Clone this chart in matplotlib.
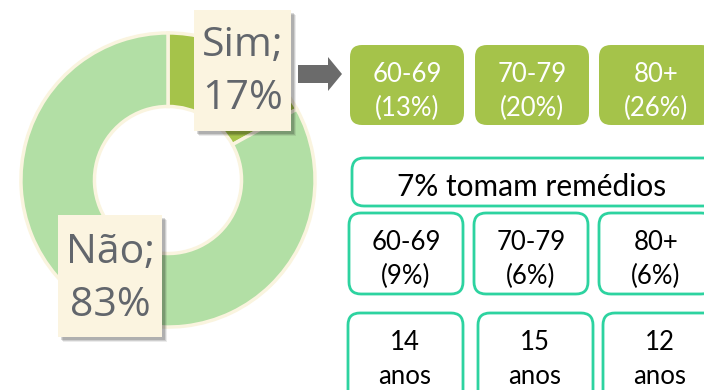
import matplotlib
matplotlib.use("Agg")
import matplotlib.pyplot as plt
from matplotlib.patches import FancyBboxPatch, Rectangle, FancyArrow

# Share of elderly who use the service
answers = ["Sim", "Não"]
answer_pct = [17, 83]

# Breakdown by age group
age_groups = ["60-69", "70-79", "80+"]
sim_by_age = [13, 20, 26]
meds_total = 7
meds_by_age = [9, 6, 6]
years_by_age = [14, 15, 12]

COLOR_SIM = "#A5C34A"
COLOR_NAO = "#B2DFA5"
COLOR_RING_EDGE = "#FAF4DF"
COLOR_LABEL_BG = "#FBF4E0"
COLOR_LABEL_TEXT = "#62666C"
COLOR_TEAL = "#2DD3A0"
COLOR_ARROW = "#6B6B6B"

W, H = 704, 390
fig = plt.figure(figsize=(W / 100, H / 100), dpi=100)

# --- Donut ---
cx, cy, r = 168, 180, 150
ax_pie = fig.add_axes([(cx - r) / W, (H - cy - r) / H, 2 * r / W, 2 * r / H])
ax_pie.pie(
    answer_pct,
    colors=[COLOR_SIM, COLOR_NAO],
    startangle=90,
    counterclock=False,
    radius=1.0,
    wedgeprops=dict(width=0.5, edgecolor=COLOR_RING_EDGE, linewidth=2.5),
)
ax_pie.set_xlim(-1.02, 1.02)
ax_pie.set_ylim(-1.02, 1.02)
ax_pie.axis("off")

# Overlay in pixel coordinates for labels and boxes
ax = fig.add_axes([0, 0, 1, 1])
ax.set_xlim(0, W)
ax.set_ylim(H, 0)
ax.axis("off")
ax.patch.set_alpha(0)


def label_box(x0, y0, x1, y1, lines, line_ys):
    for k, a in [(5, 0.08), (4, 0.12), (3, 0.15)]:
        ax.add_patch(Rectangle((x0 + k, y0 + k), x1 - x0, y1 - y0,
                               facecolor="black", alpha=a, edgecolor="none"))
    ax.add_patch(Rectangle((x0, y0), x1 - x0, y1 - y0,
                           facecolor=COLOR_LABEL_BG, edgecolor="none"))
    xc = (x0 + x1) / 2
    for txt, ty in zip(lines, line_ys):
        ax.text(xc, ty, txt, ha="center", va="center", fontsize=29.5,
                color=COLOR_LABEL_TEXT, family="Open Sans")


label_box(194, 10, 291, 131, [f"{answers[0]};", f"{answer_pct[0]}%"], [46, 99])
label_box(58, 215, 162, 337, [f"{answers[1]};", f"{answer_pct[1]}%"], [253, 306])

# Arrow pointing to the age breakdown
ax.add_patch(FancyArrow(298, 74, 44, 0, width=18, head_width=34,
                        head_length=14, length_includes_head=True,
                        color=COLOR_ARROW, linewidth=0))


def rbox(x0, y0, w, h, face, edge, lw=0):
    ax.add_patch(FancyBboxPatch((x0 + 12, y0 + 12), w - 24, h - 24,
                                boxstyle="round,pad=12",
                                facecolor=face, edgecolor=edge, linewidth=lw,
                                mutation_aspect=1))


def two_lines(xc, y_a, y_b, a, b, color):
    ax.text(xc, y_a, a, ha="center", va="center", fontsize=18.5,
            color=color, family="Lato")
    ax.text(xc, y_b, b, ha="center", va="center", fontsize=18.5,
            color=color, family="Lato")


# Row 1: share answering "Sim" by age group
row1_x = [350, 475, 599]
for x0, g, p in zip(row1_x, age_groups, sim_by_age):
    rbox(x0, 45, 114, 80, COLOR_SIM, "none")
    two_lines(x0 + 57, 75, 108, g, f"({p}%)", "white")

# Medication title
rbox(352, 158, 380, 48, "white", COLOR_TEAL, 2)
ax.text(532, 187, f"{meds_total}% tomam remédios", ha="center", va="center",
        fontsize=21.5, color="black", family="Lato")

# Row 2: medication by age group
row2_x = [349, 474, 599]
for x0, g, p in zip(row2_x, age_groups, meds_by_age):
    rbox(x0, 213, 114, 81, "white", COLOR_TEAL, 2)
    two_lines(x0 + 57, 243, 276, g, f"({p}%)", "black")

# Row 3: years by age group
row3_x = [348, 478, 603]
for x0, yrs in zip(row3_x, years_by_age):
    rbox(x0, 313, 115, 100, "white", COLOR_TEAL, 2)
    two_lines(x0 + 57, 343, 376, f"{yrs}", "anos", "black")

fig.savefig("out.png", dpi=100, facecolor="white")
